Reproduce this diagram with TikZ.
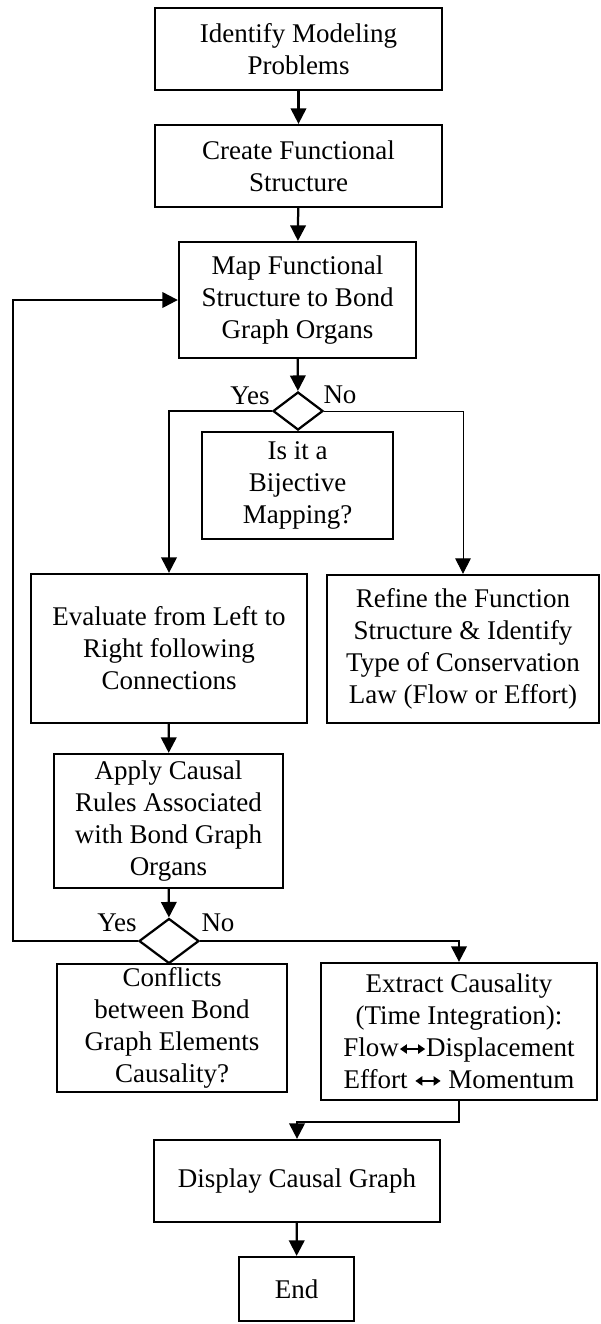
\documentclass[tikz,border=0pt]{standalone}
\usepackage{fontspec}
\setmainfont{Liberation Serif}
\usetikzlibrary{shapes.geometric,arrows.meta}

\newcommand{\causalarrow}{\tikz[baseline=-0.62ex]\draw[line width=1.3pt,{Triangle[length=5pt,width=6.5pt]}-{Triangle[length=5pt,width=6.5pt]}] (0pt,0pt) -- (18pt,0pt);}

\begin{document}
\begin{tikzpicture}[x=0.025cm,y=-0.025cm]
	\useasboundingbox (0,0) rectangle (600,1324);
	\begin{scope}[every node/.style={rectangle,draw,line width=1.6pt,align=center,inner sep=0pt,
			font=\fontsize{19.2}{22.7}\selectfont}]
		\node[minimum width=7.175cm,minimum height=2.05cm] (ident) at (298.5,49) {Identify Modeling\\Problems};
		\node[minimum width=7.175cm,minimum height=2.05cm] (create) at (298.5,166) {Create Functional\\Structure};
		\node[minimum width=5.925cm,minimum height=2.9cm] (mapb) at (297.5,300) {Map Functional\\Structure to Bond\\Graph Organs};
		\node[minimum width=4.775cm,minimum height=2.675cm] (biject) at (297.5,485.5) {Is it a\\Bijective\\Mapping?};
		\node[minimum width=6.9cm,minimum height=3.725cm] (evalb) at (169,648.5) {Evaluate from Left to\\Right following\\Connections};
		\node[minimum width=6.8cm,minimum height=3.7cm] (refine) at (463,649) {Refine the Function\\Structure \& Identify\\Type of Conservation\\Law (Flow or Effort)};
		\node[minimum width=5.725cm,minimum height=3.35cm] (apply) at (168.5,821) {Apply Causal\\Rules Associated\\with Bond Graph\\Organs};
		\node[minimum width=5.75cm,minimum height=3.2cm] (conflict) at (172,1028) {Conflicts\\between Bond\\Graph Elements\\Causality?};
		\node[minimum width=6.9cm,minimum height=3.425cm] (extract) at (459,1031.5) {Extract Causality\\(Time Integration):\\Flow\causalarrow Displacement\\Effort \causalarrow\ Momentum};
		\node[minimum width=7.15cm,minimum height=2.05cm] (display) at (297,1181) {Display Causal Graph};
		\node[minimum width=2.875cm,minimum height=1.6cm] (endb) at (296.5,1289) {End};
	\end{scope}
	\begin{scope}[every node/.style={diamond,draw,line width=1.6pt,inner sep=0pt}]
		\node[minimum width=1.25cm,minimum height=0.95cm] (dec1) at (298,411) {};
		\node[minimum width=1.5cm,minimum height=1.125cm] (dec2) at (169,941) {};
	\end{scope}
	\begin{scope}[every node/.style={font=\fontsize{19.2}{22.7}\selectfont}]
		\node (yes1) at (250,396) {Yes};
		\node (no1) at (340,395) {No};
		\node (yes2) at (117,923) {Yes};
		\node (no2) at (218,923) {No};
	\end{scope}
	\coordinate (fbtop) at (13,300);
	\begin{scope}[>={Triangle[length=11pt,width=11pt]},
		every edge/.style={draw,line width=1.6pt}]
		\path [->] (ident) edge (create);
		\path [->] (create) edge (mapb);
		\path [->] (mapb) edge (dec1);
		\path [->] (evalb) edge (apply);
		\path [->] (apply) edge (dec2);
		\path [->] (display) edge (endb);
		\draw [->,line width=1.6pt] (dec1.west) -| (evalb.north);
		\draw [->,line width=0.7pt] (dec1.east) -| (refine.north);
		\draw [->,line width=1.6pt] (dec2.west) -| (fbtop) -- (mapb.west);
		\draw [->,line width=1.6pt] (dec2.east) -| (extract.north);
		\draw [->,line width=1.6pt] (extract.south) -- ++(0,21) -| (display.north);
	\end{scope}
\end{tikzpicture}
\end{document}
